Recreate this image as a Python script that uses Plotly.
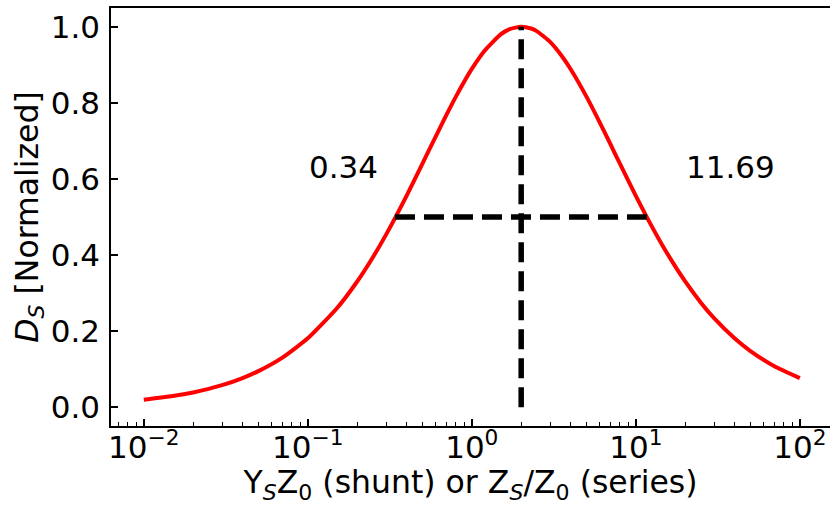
import plotly.graph_objects as go
import numpy as np

# Data
x_vals = [0.01, 0.015, 0.02, 0.03, 0.04, 0.05, 0.07, 0.1, 0.15, 0.2, 0.25, 0.3, 0.4, 0.5,
          0.6, 0.7, 0.8, 1.0, 1.2, 1.5, 1.7, 2.0, 2.3, 2.5, 3.0, 3.5, 4.0, 5.0, 6.0, 7.0,
          8.0, 10.0, 12.0, 15.0, 20.0, 25.0, 30.0, 40.0, 50.0, 70.0, 100.0]
d_vals = [0.0198, 0.0296, 0.0392, 0.0582, 0.0769, 0.0952, 0.1307, 0.1814, 0.2596, 0.3306,
          0.3951, 0.4537, 0.5556, 0.6400, 0.7101, 0.7682, 0.8163, 0.8889, 0.9375, 0.9796,
          0.9934, 1.0000, 0.9951, 0.9877, 0.9600, 0.9256, 0.8889, 0.8163, 0.7500, 0.6914,
          0.6400, 0.5556, 0.4898, 0.4152, 0.3306, 0.2743, 0.2344, 0.1814, 0.1479, 0.1080,
          0.0769]
peak_x = 2.0
half_low = 0.34
half_high = 11.69
half_level = 0.5
label_low = "0.34"
label_high = "11.69"
label_low_pos = (0.1, 0.6)
label_high_pos = (20.0, 0.6)
x_tickvals = [0.01, 0.1, 1, 10, 100]
x_ticktext = ["10<sup>−2</sup>", "10<sup>−1</sup>", "10<sup>0</sup>", "10<sup>1</sup>", "10<sup>2</sup>"]
y_tickvals = [0.0, 0.2, 0.4, 0.6, 0.8, 1.0]
y_ticktext = ["0.0", "0.2", "0.4", "0.6", "0.8", "1.0"]

FONT = "DejaVu Sans"
FS = 31
FT = 31.5

fig = go.Figure()
fig.add_trace(go.Scatter(x=x_vals, y=d_vals, mode="lines",
                         line=dict(color="#ff0000", width=4, shape="spline", smoothing=0.5),
                         hoverinfo="skip", showlegend=False))
fig.add_trace(go.Scatter(x=[peak_x, peak_x], y=[0.0, 1.0], mode="lines",
                         line=dict(color="black", width=5.5, dash="20px,9px"),
                         showlegend=False))
fig.add_trace(go.Scatter(x=[half_low, half_high], y=[half_level, half_level], mode="lines",
                         line=dict(color="black", width=5.5, dash="20px,9px"),
                         showlegend=False))

for txt, (px, py) in [(label_low, label_low_pos), (label_high, label_high_pos)]:
    fig.add_annotation(x=np.log10(px), y=py, text=txt, showarrow=False,
                       xanchor="left", yanchor="bottom", xref="x", yref="y",
                       font=dict(family=FONT, size=FS, color="black"),
                       borderpad=0, yshift=-7)

minor_vals = [k * 10.0 ** e for e in range(-3, 3) for k in range(2, 10)]

fig.update_xaxes(type="log", range=[-2.2, 2.184],
                 tickvals=x_tickvals, ticktext=x_ticktext,
                 ticks="inside", ticklen=7, tickwidth=1.5, tickcolor="black",
                 showline=True, linecolor="black", linewidth=1.5, mirror=True,
                 showgrid=False, zeroline=False,
                 ticklabelstandoff=-7,
                 minor=dict(tickvals=minor_vals, ticks="inside", ticklen=4,
                            tickwidth=1, tickcolor="black", showgrid=False),
                 tickfont=dict(family=FONT, size=FS, color="black"),
                 title=dict(text="Y<sub><i>S</i></sub>Z<sub>0</sub> (shunt) or Z<sub><i>S</i></sub>/Z<sub>0</sub> (series)",
                            font=dict(family=FONT, size=FT, color="black"), standoff=6))
fig.update_yaxes(range=[-0.049, 1.049],
                 tickvals=y_tickvals, ticktext=y_ticktext,
                 ticks="inside", ticklen=7, tickwidth=1.5, tickcolor="black",
                 showline=True, linecolor="black", linewidth=1.5, mirror=False,
                 showgrid=False, zeroline=False,
                 tickfont=dict(family=FONT, size=FS, color="black"),
                 ticklabelstandoff=3,
                 title=dict(text="<i>D</i><sub><i>S</i></sub> [Normalized]",
                            font=dict(family=FONT, size=FT, color="black"), standoff=3))

fig.update_layout(width=830, height=505,
                  margin=dict(l=111, r=0, t=8, b=79),
                  paper_bgcolor="white", plot_bgcolor="white",
                  showlegend=False)

fig.write_html("out.html")
